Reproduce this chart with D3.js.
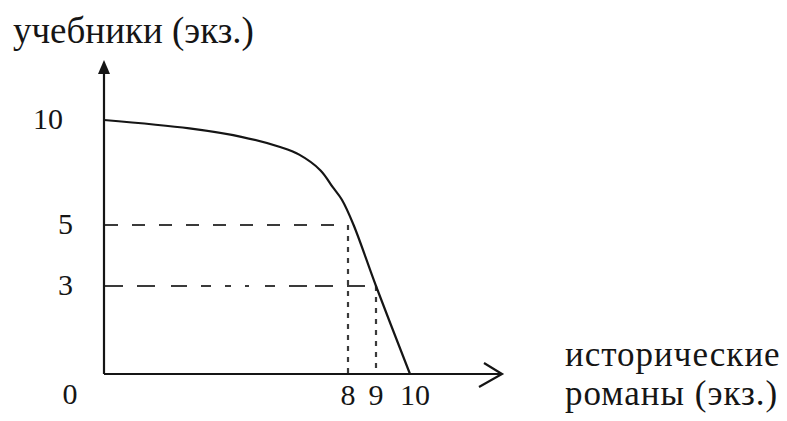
<!DOCTYPE html>
<html>
<head>
<meta charset="utf-8">
<script src="https://cdnjs.cloudflare.com/ajax/libs/d3/7.8.5/d3.min.js"></script>
<style>
  body { margin: 0; background: #fff; }
  svg text { font-family: "Liberation Serif", "Times New Roman", serif; }
</style>
</head>
<body>
<div id="chart"></div>
<script>
// data (the drawing is not to scale, so the scales are piecewise)
const curveX = [0, 2.8, 4.5, 5.8, 6.4, 7.1, 7.5, 7.8, 8.2, 9, 10];
const curveY = [10, 9.6, 9.2, 8.7, 8.35, 7.6, 6.8, 6.2, 5, 3, 0];
const xTicks = [8, 9, 10];
const yTicks = [10, 5, 3];
const guideX = [8, 9];
const guideY = [5, 3];
const yTitle = 'учебники (экз.)';
const xTitle = ['исторические', 'романы (экз.)'];

const svgWidth = 787;
const svgHeight = 421;

const svg = d3.select('#chart')
    .append('svg')
    .attr('width', svgWidth)
    .attr('height', svgHeight);

// scales: break points follow where the labels sit in the drawing
const xScale = d3.scaleLinear()
    .domain([0, 8, 9, 10])
    .range([104, 348, 376, 410]);

const yScale = d3.scaleLinear()
    .domain([0, 3, 5, 10])
    .range([374, 286, 225, 120]);

const x0 = xScale(0), y0 = yScale(0);
const ink = '#151515';

// dashed guide lines
const guides = guideX.map((x, i) => ({ x: x, y: guideY[i] }));
const hDash = ['13,14', '18,14,18,16,16,14,10,14,6,14,4,16,10,14,18,8'];

svg.selectAll('.hguide')
    .data(guides)
    .enter()
    .append('line')
    .attr('x1', x0 + 1)
    .attr('x2', d => xScale(d.x))
    .attr('y1', d => yScale(d.y))
    .attr('y2', d => yScale(d.y))
    .attr('stroke', '#3a3a3a')
    .attr('stroke-width', 2.2)
    .attr('stroke-dasharray', (d, i) => hDash[i]);

svg.selectAll('.vguide')
    .data(guides)
    .enter()
    .append('line')
    .attr('x1', d => xScale(d.x))
    .attr('x2', d => xScale(d.x))
    .attr('y1', d => yScale(d.y))
    .attr('y2', y0)
    .attr('stroke', '#3a3a3a')
    .attr('stroke-width', 2.2)
    .attr('stroke-dasharray', '5,6');

// the curve
const points = curveX.map((x, i) => [x, curveY[i]]);
const line = d3.line()
    .x(d => xScale(d[0]))
    .y(d => yScale(d[1]))
    .curve(d3.curveCatmullRom.alpha(0.5));

svg.append('path')
    .datum(points)
    .attr('d', line)
    .attr('fill', 'none')
    .attr('stroke', ink)
    .attr('stroke-width', 2.2);

// axes
svg.append('line')
    .attr('x1', x0).attr('x2', x0)
    .attr('y1', y0).attr('y2', 70)
    .attr('stroke', ink).attr('stroke-width', 2.2);

svg.append('path')
    .attr('d', `M${x0},60 L${x0 - 6},74 L${x0 + 6},74 Z`)
    .attr('fill', ink);

svg.append('line')
    .attr('x1', x0).attr('x2', 502)
    .attr('y1', y0).attr('y2', y0)
    .attr('stroke', ink).attr('stroke-width', 2.2);

svg.append('path')
    .attr('d', `M484,363 L502,${y0} L479,387`)
    .attr('fill', 'none')
    .attr('stroke', ink)
    .attr('stroke-width', 2.2);

// tick labels
svg.selectAll('.ylab')
    .data(yTicks)
    .enter()
    .append('text')
    .attr('x', d => 73 - (d >= 10 ? 10 : 0))
    .attr('y', d => yScale(d) + 9)
    .attr('text-anchor', 'end')
    .attr('font-size', 30)
    .attr('fill', ink)
    .text(d => d);

svg.selectAll('.xlab')
    .data(xTicks)
    .enter()
    .append('text')
    .attr('x', d => xScale(d) + (d >= 10 ? 5 : 0))
    .attr('y', 405)
    .attr('text-anchor', 'middle')
    .attr('font-size', 30)
    .attr('fill', ink)
    .text(d => d);

svg.append('text')
    .attr('x', 70)
    .attr('y', 404)
    .attr('text-anchor', 'middle')
    .attr('font-size', 30)
    .attr('fill', ink)
    .text('0');

// axis titles
svg.append('text')
    .attr('x', 13)
    .attr('y', 43)
    .attr('font-size', 37)
    .attr('fill', ink)
    .text(yTitle);

svg.selectAll('.xtitle')
    .data(xTitle)
    .enter()
    .append('text')
    .attr('x', 565)
    .attr('y', (d, i) => 366 + i * 39)
    .attr('font-size', 35)
    .attr('letter-spacing', 1)
    .attr('fill', ink)
    .text(d => d);
</script>
</body>
</html>
